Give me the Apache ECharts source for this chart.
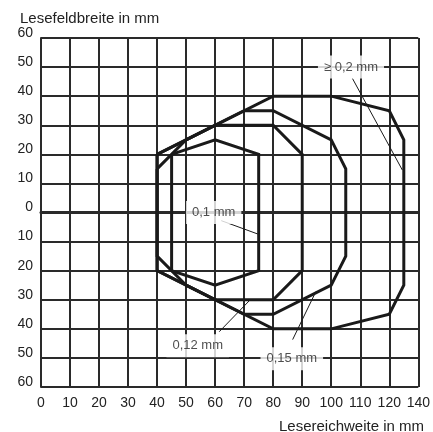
<!DOCTYPE html>
<html><head><meta charset="utf-8">
<script src="https://cdn.jsdelivr.net/npm/echarts@6/dist/echarts.min.js"></script>
<style>html,body{margin:0;padding:0;background:#fff}#c{width:433px;height:432px}</style>
</head><body><div id="c"></div>
<script>
// Tick labels (the reference's x axis labels its last grid line "140")
const xTickLabels = ['0','10','20','30','40','50','60','70','80','90','100','110','120','140'];
const yTickLabels = ['60','50','40','30','20','10','0','10','20','30','40','50','60'];

// Reading fields (reading distance, field width) per resolution
const zone020 = [[40,20],[80,40],[100,40],[120,35],[125,25],[125,-25],[120,-35],[100,-40],[80,-40],[40,-20],[40,20]];
const zone015 = [[40,20],[70,35],[80,35],[100,25],[105,15],[105,-15],[100,-25],[80,-35],[70,-35],[40,-20],[40,20]];
const zone012 = [[40,15],[50,25],[60,30],[80,30],[90,20],[90,-20],[80,-30],[60,-30],[50,-25],[40,-15],[40,15]];
const zone010 = [[45,20],[60,25],[75,20],[75,-20],[60,-25],[45,-20],[45,20]];

// Annotations
const annoTexts = ['≥ 0,2 mm','0,1 mm','0,12 mm','0,15 mm'];
const annoAt = [[106.8,50],[59.5,0],[54,-45.8],[86.4,-50.3]];
const leader020 = [[107.3,46.1],[124.5,14.6]];
const leader010 = [[62.1,-2.8],[74.7,-7.4]];
const leader012 = [[61.4,-41],[71.8,-30.3]];
const leader015 = [[86.7,-43.7],[94.7,-27.2]];

const FONT = '"Liberation Sans", Arial, Helvetica, sans-serif';
const INK = '#1a1a1a';
const GRID = '#2a2a2a';

const zoneSeries = [zone020, zone015, zone012, zone010].map(d => ({
  type: 'line', data: d, symbol: 'none', silent: true, z: 3,
  lineStyle: { width: 3, color: INK, join: 'miter' }
}));
const leaderSeries = [leader020, leader010, leader012, leader015].map(d => ({
  type: 'line', data: d, symbol: 'none', silent: true, z: 4,
  lineStyle: { width: 1, color: INK }
}));

const chart = echarts.init(document.getElementById('c'), null, { renderer: 'canvas' });
chart.setOption({
  animation: false,
  backgroundColor: '#fff',
  title: [
    { text: 'Lesefeldbreite in mm', left: 15, top: 6,
      textStyle: { fontFamily: FONT, fontSize: 15, fontWeight: 'normal', color: '#222' } },
    { text: 'Lesereichweite in mm', right: 4, top: 414,
      textStyle: { fontFamily: FONT, fontSize: 15, fontWeight: 'normal', color: '#222' } }
  ],
  grid: { left: 41, top: 38, width: 378, height: 349 },
  xAxis: {
    type: 'value', min: 0, max: 130, interval: 10,
    axisLine: { show: true, onZero: true, lineStyle: { color: GRID, width: 3 } },
    axisTick: { show: false },
    splitLine: { show: true, lineStyle: { color: GRID, width: 2 } },
    axisLabel: { margin: 9, fontFamily: FONT, fontSize: 14, color: '#222',
      formatter: v => xTickLabels[Math.round(v / 10)] }
  },
  yAxis: {
    type: 'value', min: -60, max: 60, interval: 10,
    axisLine: { show: true, lineStyle: { color: GRID, width: 2 } },
    axisTick: { show: false },
    splitLine: { show: true, lineStyle: { color: GRID, width: 2 } },
    axisLabel: { margin: 8, fontFamily: FONT, fontSize: 14, color: '#222',
      verticalAlign: 'bottom', lineHeight: 10,
      formatter: v => yTickLabels[Math.round((v + 60) / 10)] }
  },
  series: [
    ...zoneSeries,
    ...leaderSeries,
    {
      type: 'scatter', z: 10, silent: true, symbolSize: 1,
      itemStyle: { color: 'rgba(0,0,0,0)' },
      data: annoAt.map((p, i) => ({ value: p, name: annoTexts[i] })),
      label: { show: true, position: 'inside', formatter: p => p.name,
        fontFamily: FONT, fontSize: 13, color: '#222',
        backgroundColor: '#ffffff', padding: [5, 6] }
    }
  ]
});
</script></body></html>
